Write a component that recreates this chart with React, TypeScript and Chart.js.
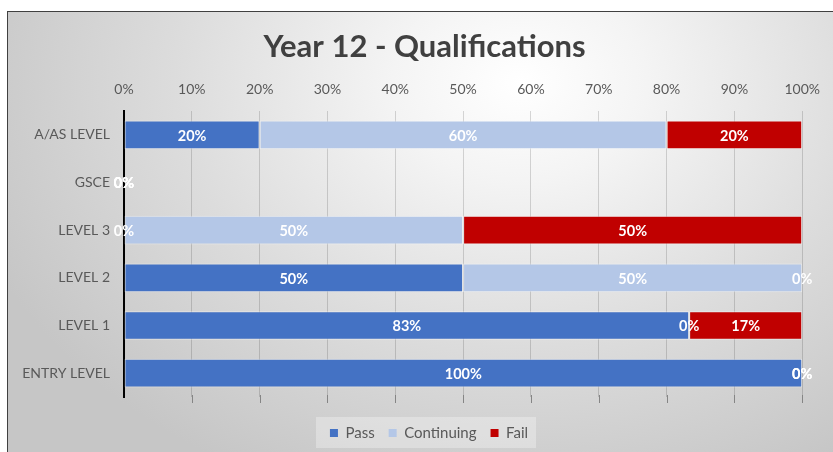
import { useEffect, useRef } from 'react';
import { Chart, registerables } from 'chart.js';

Chart.register(...registerables);

const categories = ['A/AS LEVEL', 'GSCE', 'LEVEL 3', 'LEVEL 2', 'LEVEL 1', 'ENTRY LEVEL'];
const passValues = [20, 0, 0, 50, 83.33, 100];
const continuingValues = [60, 0, 50, 50, 0, 0];
const failValues = [20, 0, 50, 0, 16.67, 0];
const seriesNames = ['Pass', 'Continuing', 'Fail'];
const seriesColors = ['#4472C4', '#B4C7E7', '#C00000'];
const xTickValues = [0, 10, 20, 30, 40, 50, 60, 70, 80, 90, 100];
const titleText = 'Year 12 - Qualifications';

const FONT = 'Lato, "Open Sans", sans-serif';

const blockShift = {
  id: 'blockShift',
  afterLayout(chart: any) {
    const lg = chart.legend;
    if (lg) {
      lg.left += 22.5;
      lg.right += 22.5;
    }
    const tb = chart.titleBlock;
    if (tb) {
      tb.left += 18;
      tb.right += 18;
    }
  },
};

const legendPanel = {
  id: 'legendPanel',
  beforeDraw(chart: any) {
    const lg = chart.legend;
    if (!lg || !lg.legendHitBoxes || !lg.legendHitBoxes.length) return;
    const boxes = lg.legendHitBoxes;
    const left = Math.min(...boxes.map((b: any) => b.left)) - 14;
    const right = Math.max(...boxes.map((b: any) => b.left + b.width)) + 8;
    const top = Math.min(...boxes.map((b: any) => b.top)) - 8.5;
    const bottom = Math.max(...boxes.map((b: any) => b.top + b.height)) + 7.5;
    const ctx = chart.ctx;
    ctx.save();
    ctx.fillStyle = 'rgba(255,255,255,0.3)';
    ctx.fillRect(left, top, right - left, bottom - top);
    ctx.restore();
  },
};

const bottomTicks = {
  id: 'bottomTicks',
  afterDraw(chart: any) {
    const xs = chart.scales.x;
    const { bottom } = chart.chartArea;
    const ctx = chart.ctx;
    ctx.save();
    ctx.strokeStyle = '#858585';
    ctx.lineWidth = 1;
    xTickValues.forEach((v, i) => {
      if (i === 0) return;
      const x = Math.round(xs.getPixelForValue(v)) + 0.5;
      ctx.beginPath();
      ctx.moveTo(x, bottom - 2);
      ctx.lineTo(x, bottom + 6);
      ctx.stroke();
    });
    ctx.restore();
  },
};

const dataLabels = {
  id: 'dataLabels',
  afterDatasetsDraw(chart: any) {
    const ctx = chart.ctx;
    ctx.save();
    ctx.fillStyle = '#ffffff';
    ctx.font = `bold 14.5px ${FONT}`;
    ctx.textAlign = 'center';
    ctx.textBaseline = 'middle';
    chart.data.datasets.forEach((ds: any, di: number) => {
      const meta = chart.getDatasetMeta(di);
      meta.data.forEach((el: any, i: number) => {
        const v = ds.data[i];
        const x = (el.x + el.base) / 2;
        ctx.fillText(`${Math.round(v)}%`, x, el.y + 1);
      });
    });
    ctx.restore();
  },
};

export default function App() {
  const ref = useRef<HTMLCanvasElement | null>(null);

  useEffect(() => {
    if (!ref.current) return;
    const chart = new Chart(ref.current, {
      type: 'bar',
      data: {
        labels: categories,
        datasets: [passValues, continuingValues, failValues].map((d, i) => ({
          label: seriesNames[i],
          data: d,
          backgroundColor: seriesColors[i],
          borderColor: 'rgba(255,255,255,0.45)',
          borderWidth: 1,
          borderSkipped: false,
          barPercentage: 0.6,
          categoryPercentage: 1,
        })),
      },
      options: {
        indexAxis: 'y',
        animation: false,
        responsive: true,
        maintainAspectRatio: false,
        layout: { padding: { left: 0, right: 28, top: 0, bottom: 1.5 } },
        scales: {
          x: {
            position: 'top',
            stacked: true,
            min: 0,
            max: 100,
            afterBuildTicks(scale: any) {
              scale.ticks = xTickValues.map((v) => ({ value: v }));
            },
            afterFit(scale: any) {
              scale.height = 45.8;
            },
            ticks: {
              callback: (v: any) => `${v}%`,
              color: '#595959',
              font: { family: FONT, size: 14 },
              padding: 13,
            },
            grid: { color: 'rgba(0,0,0,0.15)', drawTicks: false },
            border: { display: false },
          },
          y: {
            stacked: true,
            afterFit(scale: any) {
              scale.width = 116;
            },
            ticks: {
              color: '#595959',
              font: { family: FONT, size: 14 },
              padding: 14,
            },
            grid: { display: false, drawTicks: false },
            border: { display: true, color: '#000000', width: 2 },
          },
        },
        plugins: {
          title: {
            display: true,
            text: titleText,
            color: '#404040',
            font: { family: FONT, size: 31, weight: 'bold' },
            padding: { top: 16, bottom: 0 },
          },
          legend: {
            position: 'bottom',
            title: {
              display: true,
              text: ' ',
              font: { family: FONT, size: 10 },
              padding: { top: 2.5, bottom: 0 },
            },
            labels: {
              boxWidth: 8,
              boxHeight: 8,
              padding: 14,
              color: '#595959',
              font: { family: FONT, size: 15 },
              generateLabels: (c: any) =>
                Chart.defaults.plugins.legend.labels
                  .generateLabels(c)
                  .map((l: any) => ({ ...l, lineWidth: 0, strokeStyle: 'transparent' })),
            },
          },
          tooltip: { enabled: false },
        },
      },
      plugins: [blockShift, legendPanel, dataLabels, bottomTicks],
    });
    return () => chart.destroy();
  }, []);

  return (
    <div
      style={{
        position: 'absolute',
        left: 7,
        top: 11,
        width: 826,
        height: 441,
        borderLeft: '1px solid #404040',
        borderTop: '1px solid #404040',
        overflow: 'hidden',
        background:
          'radial-gradient(ellipse 70% 100% at 62% 16%, #ffffff 0%, #f4f4f4 22%, #dcdcdc 60%, #c6c6c6 100%)',
      }}
    >
      <div style={{ position: 'relative', width: 825, height: 440 }}>
        <canvas ref={ref} />
      </div>
    </div>
  );
}
